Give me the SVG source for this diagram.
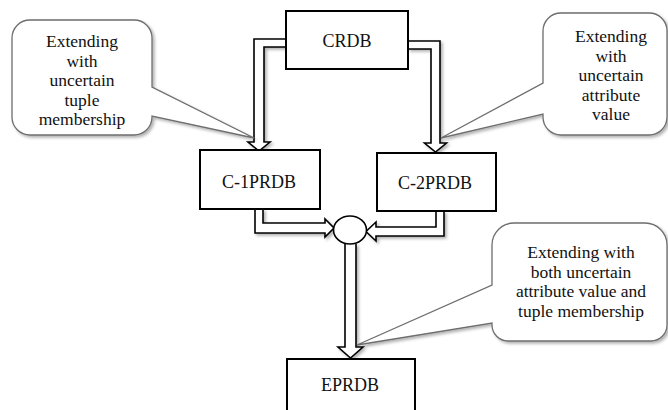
<svg xmlns="http://www.w3.org/2000/svg" width="668" height="410" viewBox="0 0 668 410">
<style>
.box{fill:#fff;stroke:#000;stroke-width:2}
.lbl{font-family:"Liberation Serif","Times New Roman",serif;font-size:18px;fill:#111;text-anchor:middle}
.note{font-family:"Liberation Serif","Times New Roman",serif;font-size:17.5px;fill:#111;text-anchor:middle}
.arr{fill:#fff;stroke:#000;stroke-width:1.6;stroke-linejoin:miter}
.call{fill:#fff;stroke:#6e6e6e;stroke-width:1.3}
</style>
<defs>
<filter id="sh" x="-20%" y="-20%" width="140%" height="140%">
<feDropShadow dx="2" dy="2" stdDeviation="1.5" flood-color="#000" flood-opacity="0.3"/>
</filter>
</defs>
<rect width="668" height="410" fill="#fff"/>
<g id="connectors" filter="url(#sh)">
<path class="arr" d="M286 39 H254 V142 H248 L259 151 L270 142 H264 V47 H286"/>
<path class="arr" d="M408 41 H440 V143 H446.5 L435.5 152 L424.5 143 H431 V49 H408"/>
<path class="arr" d="M255 209 V233 H325 V237 L334 228 L325 219 V223 H263 V209"/>
<path class="arr" d="M444 211 V236 H376 V241 L366 231.5 L376 222 V227 H436 V211"/>
<path class="arr" d="M345 244 V347 H338 L350.5 358 L363 347 H356 V244"/>
</g>
<g id="crdb">
<rect class="box" x="286" y="11" width="122" height="58"/>
<text class="lbl" x="347" y="47">CRDB</text>
</g>
<g id="c1prdb">
<rect class="box" x="200" y="150" width="120" height="59"/>
<text class="lbl" x="259" y="188">C-1PRDB</text>
</g>
<g id="c2prdb">
<rect class="box" x="377" y="153" width="119" height="58"/>
<text class="lbl" x="435" y="189">C-2PRDB</text>
</g>
<g id="merge">
<ellipse cx="350" cy="230" rx="16.5" ry="14" fill="#fff" stroke="#000" stroke-width="1.6"/>
</g>
<g id="eprdb">
<rect class="box" x="287" y="359" width="128" height="60"/>
<text class="lbl" x="350" y="391">EPRDB</text>
</g>
<g id="note1">
<path class="call" filter="url(#sh)" d="M30 20 H134 A18 18 0 0 1 152 38 V87 L254 138 L152 116 V117 A18 18 0 0 1 134 135 H30 A18 18 0 0 1 12 117 V38 A18 18 0 0 1 30 20 Z"/>
<text class="note"><tspan x="82" y="47">Extending</tspan><tspan x="82" y="66.5">with</tspan><tspan x="82" y="86">uncertain</tspan><tspan x="82" y="105.5">tuple</tspan><tspan x="82" y="125">membership</tspan></text>
</g>
<g id="note2">
<path class="call" filter="url(#sh)" d="M561 13 H649 A18 18 0 0 1 667 31 V117 A18 18 0 0 1 649 135 H561 A18 18 0 0 1 543 117 V114 L441 138 L543 83 V31 A18 18 0 0 1 561 13 Z"/>
<text class="note"><tspan x="611" y="42">Extending</tspan><tspan x="611" y="61.5">with</tspan><tspan x="611" y="81">uncertain</tspan><tspan x="611" y="100.5">attribute</tspan><tspan x="611" y="120">value</tspan></text>
</g>
<g id="note3">
<path class="call" filter="url(#sh)" d="M514 223 H645 A22 22 0 0 1 667 245 V325 A16 16 0 0 1 651 341 H508 A16 16 0 0 1 492 325 V323 L357 345 L492 285 V245 A22 22 0 0 1 514 223 Z"/>
<text class="note"><tspan x="581" y="258">Extending with</tspan><tspan x="581" y="277.5">both uncertain</tspan><tspan x="581" y="297">attribute value and</tspan><tspan x="581" y="316.5">tuple membership</tspan></text>
</g>
</svg>
